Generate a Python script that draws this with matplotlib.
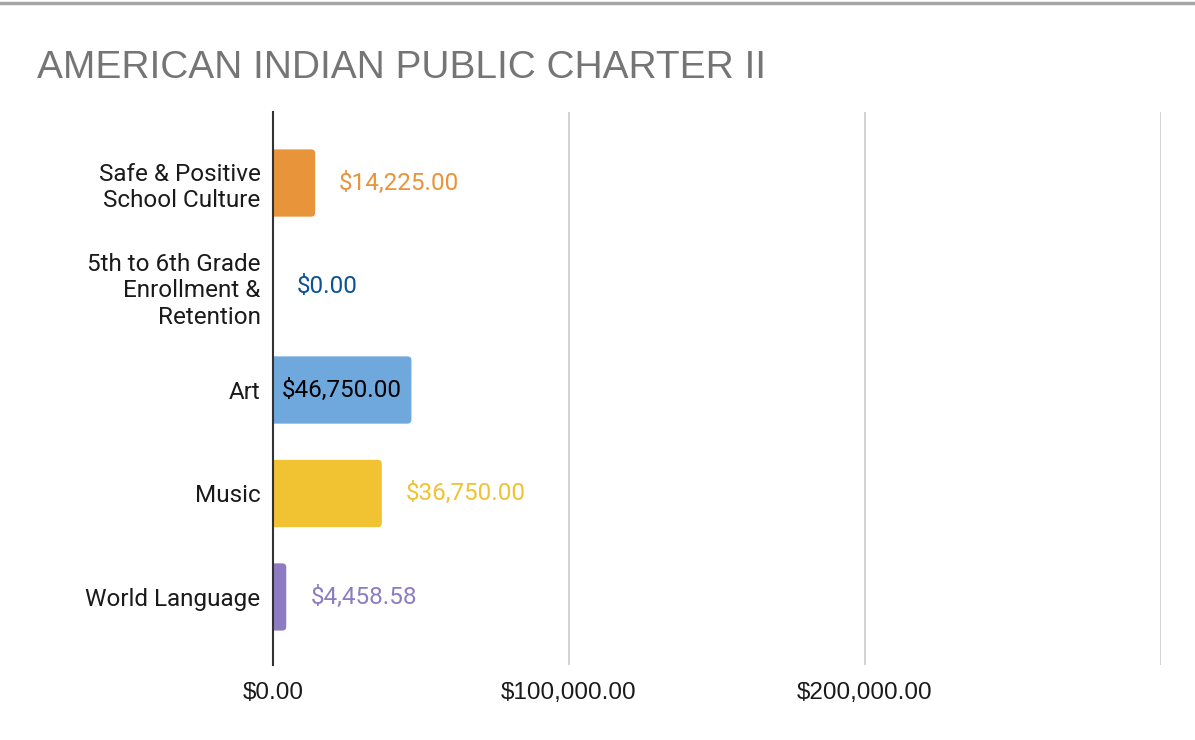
import matplotlib
matplotlib.use("Agg")
import matplotlib.pyplot as plt
from matplotlib.lines import Line2D
from matplotlib.patches import FancyBboxPatch
from matplotlib.ticker import FuncFormatter

# data
categories = ["Safe & Positive\nSchool Culture",
              "5th to 6th Grade\nEnrollment &\nRetention",
              "Art", "Music", "World Language"]
amounts = [14225.00, 0.00, 46750.00, 36750.00, 4458.58]
bar_colors = ["#e8943a", "#0b5394", "#6fa8dc", "#f1c232", "#8e7cc3"]
label_colors = ["#e8943a", "#0b5394", "#000000", "#f1c232", "#8e7cc3"]
inside_label = [False, False, True, False, False]
x_ticks = [0, 100000, 200000, 300000]

XMAX = 300000
YLIM = (4.657, -0.686)

fig = plt.figure(figsize=(11.95, 7.4), dpi=100)
ax = fig.add_axes([0.2285, 0.1014, 0.7430, 0.7472])
ax.set_xlim(0, XMAX)
ax.set_ylim(*YLIM)

ypos = list(range(len(categories)))
bars = ax.barh(ypos, amounts, height=0.65, color=bar_colors, zorder=3)

# swap the plain rectangles for ones with slightly rounded corners
ax_w_px = 0.7430 * 1195
ax_h_px = 0.7472 * 740
x_per_px = XMAX / ax_w_px
y_per_px = (YLIM[0] - YLIM[1]) / ax_h_px
r_px = 4
for b in bars:
    w = b.get_width()
    b.set_visible(False)
    if w <= 0:
        continue
    r = r_px * x_per_px
    p = FancyBboxPatch((b.get_x() - r, b.get_y()), w + r, b.get_height(),
                       boxstyle=f"round,pad=0,rounding_size={r}",
                       mutation_aspect=y_per_px / x_per_px,
                       facecolor=b.get_facecolor(), edgecolor="none",
                       zorder=3)
    ax.add_patch(p)

for y, v, lc, inside in zip(ypos, amounts, label_colors, inside_label):
    txt = f"${v:,.2f}"
    if inside:
        ax.text(v / 2, y, txt, ha="center", va="center", color=lc,
                fontsize=17.5, family="Roboto", zorder=4)
    else:
        ax.annotate(txt, (v, y), xytext=(24, 0), textcoords="offset pixels",
                    ha="left", va="center", color=lc, fontsize=17.5,
                    family="Roboto", zorder=4)

ax.set_yticks(ypos)
ax.set_yticklabels(categories, family="Roboto", fontsize=17.5,
                   color="#1a1a1a", linespacing=1.2)
ax.set_xticks(x_ticks)
ax.xaxis.set_major_formatter(FuncFormatter(
    lambda v, p: "" if v >= XMAX else f"${v:,.2f}"))
for lab in ax.get_xticklabels():
    lab.set_family("Liberation Sans")
    lab.set_fontsize(17.5)
    lab.set_color("#1a1a1a")
ax.tick_params(axis="both", length=0)
ax.tick_params(axis="y", pad=9)
ax.tick_params(axis="x", pad=12)

ax.grid(axis="x", color="#cccccc", linewidth=1.2, zorder=0)
for side in ["top", "right", "bottom"]:
    ax.spines[side].set_visible(False)
ax.spines["left"].set_color("#333333")
ax.spines["left"].set_linewidth(1.5)
ax.spines["left"].set_zorder(5)

fig.text(0.031, 0.908, "AMERICAN INDIAN PUBLIC CHARTER II",
         family="Liberation Sans", fontsize=28, color="#757575",
         ha="left", va="center")

# spreadsheet frame line along the top edge
fig.add_artist(Line2D([0, 1], [0.9965, 0.9965], color="#a6a6a6",
                      linewidth=2.5, transform=fig.transFigure))

fig.savefig("out.png", dpi=100)
